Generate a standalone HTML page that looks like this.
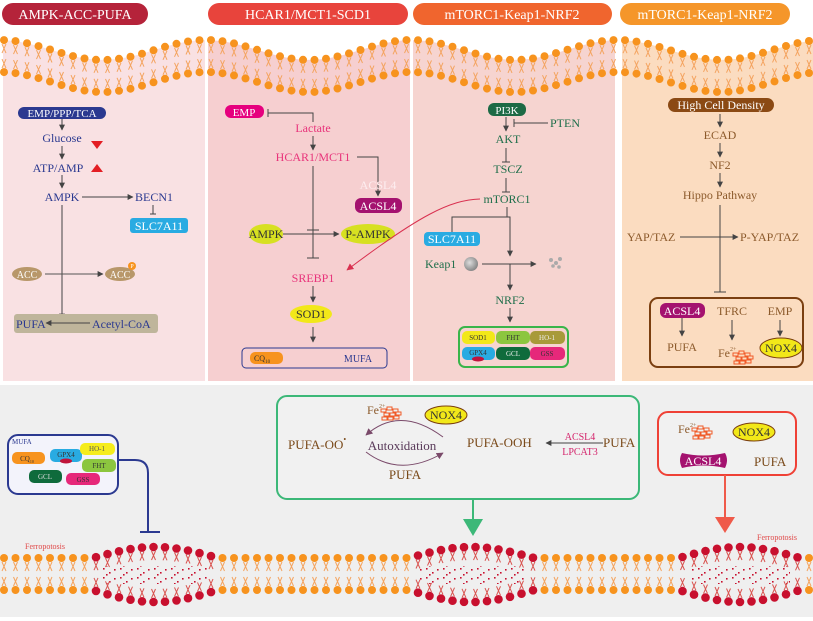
<!DOCTYPE html>
<html><head><meta charset="utf-8">
<style>
html,body{margin:0;padding:0;background:#fff}
svg{display:block;font-family:"Liberation Serif",serif}
</style></head><body>
<svg xmlns="http://www.w3.org/2000/svg" xmlns:xlink="http://www.w3.org/1999/xlink" width="813" height="621" viewBox="0 0 813 621">
<defs>
<marker id="a" viewBox="0 0 10 10" refX="9" refY="5" markerWidth="6" markerHeight="6" orient="auto"><path d="M0,0L10,5L0,10z" fill="#444"/></marker>
<marker id="ar" viewBox="0 0 10 10" refX="9" refY="5" markerWidth="7" markerHeight="7" orient="auto"><path d="M0,0L10,5L0,10z" fill="#d9304f"/></marker>
<marker id="ap" viewBox="0 0 10 10" refX="9" refY="5" markerWidth="7" markerHeight="7" orient="auto"><path d="M0,0L10,5L0,10z" fill="#7a4a6a"/></marker>
<radialGradient id="g" cx="40%" cy="40%" r="60%"><stop offset="0" stop-color="#ddd"/><stop offset="1" stop-color="#888"/></radialGradient>
<g id="ot"><path d="M-2,4L2,13M2,4L-2,13" stroke="#f4a460" fill="none"/><circle r="4" fill="#f7931e"/></g>
<g id="ob"><path d="M-2,-4L2,-13M2,-4L-2,-13" stroke="#f4a460" fill="none"/><circle r="4" fill="#f7931e"/></g>
<g id="rt"><path d="M-2,4L2,13M2,4L-2,13" stroke="#d9534f" fill="none"/><circle r="4.3" fill="#c8102e"/></g>
<g id="rb"><path d="M-2,-4L2,-13M2,-4L-2,-13" stroke="#d9534f" fill="none"/><circle r="4.3" fill="#c8102e"/></g>
<g id="u"><use xlink:href="#ot"/><use xlink:href="#ob" y="32"/></g>
<pattern id="dots" width="17" height="9" patternUnits="userSpaceOnUse"><rect x="1" y="1" width="1.6" height="1.6" fill="#c8102e"/><rect x="7" y="5" width="1.6" height="1.6" fill="#c8102e"/><rect x="12" y="2" width="1.6" height="1.6" fill="#c8102e"/><rect x="4" y="7" width="1.6" height="1.6" fill="#c8102e"/></pattern>
<g id="fe" fill="none" stroke="#f05a28" stroke-width="1"><rect x="0" y="-4" width="5" height="3"/><rect x="6" y="-6" width="5" height="3"/><rect x="12" y="-4" width="5" height="3"/><rect x="3" y="0" width="5" height="3"/><rect x="9" y="0" width="5" height="3"/><rect x="15" y="-1" width="5" height="3"/><rect x="1" y="4" width="5" height="3"/><rect x="7" y="4" width="5" height="3"/><rect x="13" y="3" width="5" height="3"/></g>
</defs>
<rect width="813" height="621" fill="#fff"/>
<rect x="0" y="385" width="813" height="232" fill="#efefef"/>
<rect x="3" y="40" width="202" height="341" fill="#f9e1e3"/>
<rect x="208" y="40" width="202" height="341" fill="#f6cfd0"/>
<rect x="413" y="40" width="202" height="341" fill="#f6d4d0"/>
<rect x="622" y="40" width="191" height="341" fill="#fbdcc0"/>
<path fill="#fff" d="M0,40 L4,40.1 L15.5,41.1 L27,43.2 L38.5,46.1 L50,49.5 L61.5,53 L73,56.1 L84.5,58.5 L96,59.8 L107.5,59.9 L119,58.8 L130.5,56.7 L142,53.7 L153.5,50.3 L165,46.8 L176.5,43.8 L188,41.5 L199.5,40.2 L211,40.1 L222.5,41.2 L234,43.4 L245.5,46.4 L257,49.8 L268.5,53.3 L280,56.3 L291.5,58.6 L303,59.8 L314.5,59.9 L326,58.7 L337.5,56.5 L349,53.4 L360.5,50 L372,46.6 L383.5,43.5 L395,41.3 L406.5,40.1 L418,40.2 L429.5,41.4 L441,43.7 L452.5,46.7 L464,50.2 L475.5,53.6 L487,56.6 L498.5,58.8 L510,59.9 L521.5,59.8 L533,58.5 L544.5,56.2 L556,53.1 L567.5,49.7 L579,46.3 L590.5,43.3 L602,41.2 L613.5,40.1 L625,40.2 L636.5,41.6 L648,43.9 L659.5,47 L671,50.5 L682.5,53.9 L694,56.8 L705.5,58.9 L717,59.9 L728.5,59.7 L740,58.4 L751.5,56 L763,52.8 L774.5,49.4 L786,46 L797.5,43.1 L809,41 L813,40.8 L813,0 L0,0Z"/>
<g>
<use xlink:href="#u" x="4" y="40.1"/><use xlink:href="#u" x="15.5" y="41.1"/><use xlink:href="#u" x="27" y="43.2"/><use xlink:href="#u" x="38.5" y="46.1"/><use xlink:href="#u" x="50" y="49.5"/><use xlink:href="#u" x="61.5" y="53"/><use xlink:href="#u" x="73" y="56.1"/><use xlink:href="#u" x="84.5" y="58.5"/><use xlink:href="#u" x="96" y="59.8"/><use xlink:href="#u" x="107.5" y="59.9"/><use xlink:href="#u" x="119" y="58.8"/><use xlink:href="#u" x="130.5" y="56.7"/><use xlink:href="#u" x="142" y="53.7"/><use xlink:href="#u" x="153.5" y="50.3"/><use xlink:href="#u" x="165" y="46.8"/><use xlink:href="#u" x="176.5" y="43.8"/><use xlink:href="#u" x="188" y="41.5"/><use xlink:href="#u" x="199.5" y="40.2"/><use xlink:href="#u" x="211" y="40.1"/><use xlink:href="#u" x="222.5" y="41.2"/><use xlink:href="#u" x="234" y="43.4"/><use xlink:href="#u" x="245.5" y="46.4"/><use xlink:href="#u" x="257" y="49.8"/><use xlink:href="#u" x="268.5" y="53.3"/><use xlink:href="#u" x="280" y="56.3"/><use xlink:href="#u" x="291.5" y="58.6"/><use xlink:href="#u" x="303" y="59.8"/><use xlink:href="#u" x="314.5" y="59.9"/><use xlink:href="#u" x="326" y="58.7"/><use xlink:href="#u" x="337.5" y="56.5"/><use xlink:href="#u" x="349" y="53.4"/><use xlink:href="#u" x="360.5" y="50"/><use xlink:href="#u" x="372" y="46.6"/><use xlink:href="#u" x="383.5" y="43.5"/><use xlink:href="#u" x="395" y="41.3"/><use xlink:href="#u" x="406.5" y="40.1"/><use xlink:href="#u" x="418" y="40.2"/><use xlink:href="#u" x="429.5" y="41.4"/><use xlink:href="#u" x="441" y="43.7"/><use xlink:href="#u" x="452.5" y="46.7"/><use xlink:href="#u" x="464" y="50.2"/><use xlink:href="#u" x="475.5" y="53.6"/><use xlink:href="#u" x="487" y="56.6"/><use xlink:href="#u" x="498.5" y="58.8"/><use xlink:href="#u" x="510" y="59.9"/><use xlink:href="#u" x="521.5" y="59.8"/><use xlink:href="#u" x="533" y="58.5"/><use xlink:href="#u" x="544.5" y="56.2"/><use xlink:href="#u" x="556" y="53.1"/><use xlink:href="#u" x="567.5" y="49.7"/><use xlink:href="#u" x="579" y="46.3"/><use xlink:href="#u" x="590.5" y="43.3"/><use xlink:href="#u" x="602" y="41.2"/><use xlink:href="#u" x="613.5" y="40.1"/><use xlink:href="#u" x="625" y="40.2"/><use xlink:href="#u" x="636.5" y="41.6"/><use xlink:href="#u" x="648" y="43.9"/><use xlink:href="#u" x="659.5" y="47"/><use xlink:href="#u" x="671" y="50.5"/><use xlink:href="#u" x="682.5" y="53.9"/><use xlink:href="#u" x="694" y="56.8"/><use xlink:href="#u" x="705.5" y="58.9"/><use xlink:href="#u" x="717" y="59.9"/><use xlink:href="#u" x="728.5" y="59.7"/><use xlink:href="#u" x="740" y="58.4"/><use xlink:href="#u" x="751.5" y="56"/><use xlink:href="#u" x="763" y="52.8"/><use xlink:href="#u" x="774.5" y="49.4"/><use xlink:href="#u" x="786" y="46"/><use xlink:href="#u" x="797.5" y="43.1"/><use xlink:href="#u" x="809" y="41"/>
</g>
<!-- bottom membrane -->
<g>
<use xlink:href="#u" x="4" y="558"/><use xlink:href="#u" x="15.5" y="558"/><use xlink:href="#u" x="27" y="558"/><use xlink:href="#u" x="38.5" y="558"/><use xlink:href="#u" x="50" y="558"/><use xlink:href="#u" x="61.5" y="558"/><use xlink:href="#u" x="73" y="558"/><use xlink:href="#u" x="84.5" y="558"/>
<use xlink:href="#u" x="222.5" y="558"/><use xlink:href="#u" x="234" y="558"/><use xlink:href="#u" x="245.5" y="558"/><use xlink:href="#u" x="257" y="558"/><use xlink:href="#u" x="268.5" y="558"/><use xlink:href="#u" x="280" y="558"/><use xlink:href="#u" x="291.5" y="558"/><use xlink:href="#u" x="303" y="558"/><use xlink:href="#u" x="314.5" y="558"/><use xlink:href="#u" x="326" y="558"/><use xlink:href="#u" x="337.5" y="558"/><use xlink:href="#u" x="349" y="558"/><use xlink:href="#u" x="360.5" y="558"/><use xlink:href="#u" x="372" y="558"/><use xlink:href="#u" x="383.5" y="558"/><use xlink:href="#u" x="395" y="558"/><use xlink:href="#u" x="406.5" y="558"/>
<use xlink:href="#u" x="544.5" y="558"/><use xlink:href="#u" x="556" y="558"/><use xlink:href="#u" x="567.5" y="558"/><use xlink:href="#u" x="579" y="558"/><use xlink:href="#u" x="590.5" y="558"/><use xlink:href="#u" x="602" y="558"/><use xlink:href="#u" x="613.5" y="558"/><use xlink:href="#u" x="625" y="558"/><use xlink:href="#u" x="636.5" y="558"/><use xlink:href="#u" x="648" y="558"/><use xlink:href="#u" x="659.5" y="558"/><use xlink:href="#u" x="671" y="558"/><use xlink:href="#u" x="809" y="558"/>
<rect x="103" y="566" width="105" height="18" fill="url(#dots)"/>
<rect x="419" y="566" width="105" height="18" fill="url(#dots)"/>
<rect x="689" y="566" width="101" height="18" fill="url(#dots)"/>
<use xlink:href="#rt" x="96" y="557.2"/><use xlink:href="#rt" x="107.5" y="554.1"/><use xlink:href="#rt" x="119" y="551.3"/><use xlink:href="#rt" x="130.5" y="549.1"/><use xlink:href="#rt" x="142" y="547.6"/><use xlink:href="#rt" x="153.5" y="547"/><use xlink:href="#rt" x="165" y="547.3"/><use xlink:href="#rt" x="176.5" y="548.5"/><use xlink:href="#rt" x="188" y="550.5"/><use xlink:href="#rt" x="199.5" y="553.1"/><use xlink:href="#rt" x="211" y="556.1"/>
<use xlink:href="#rb" x="96" y="590.9"/><use xlink:href="#rb" x="107.5" y="594.3"/><use xlink:href="#rb" x="119" y="597.3"/><use xlink:href="#rb" x="130.5" y="599.7"/><use xlink:href="#rb" x="142" y="601.3"/><use xlink:href="#rb" x="153.5" y="602"/><use xlink:href="#rb" x="165" y="601.7"/><use xlink:href="#rb" x="176.5" y="600.4"/><use xlink:href="#rb" x="188" y="598.2"/><use xlink:href="#rb" x="199.5" y="595.4"/><use xlink:href="#rb" x="211" y="592.1"/>
<use xlink:href="#rt" x="418" y="555.5"/><use xlink:href="#rt" x="429.5" y="552.6"/><use xlink:href="#rt" x="441" y="550.1"/><use xlink:href="#rt" x="452.5" y="548.2"/><use xlink:href="#rt" x="464" y="547.2"/><use xlink:href="#rt" x="475.5" y="547.1"/><use xlink:href="#rt" x="487" y="547.8"/><use xlink:href="#rt" x="498.5" y="549.4"/><use xlink:href="#rt" x="510" y="551.8"/><use xlink:href="#rt" x="521.5" y="554.6"/><use xlink:href="#rt" x="533" y="557.7"/>
<use xlink:href="#rb" x="418" y="592.7"/><use xlink:href="#rb" x="429.5" y="595.9"/><use xlink:href="#rb" x="441" y="598.6"/><use xlink:href="#rb" x="452.5" y="600.7"/><use xlink:href="#rb" x="464" y="601.8"/><use xlink:href="#rb" x="475.5" y="601.9"/><use xlink:href="#rb" x="487" y="601.1"/><use xlink:href="#rb" x="498.5" y="599.3"/><use xlink:href="#rb" x="510" y="596.8"/><use xlink:href="#rb" x="521.5" y="593.7"/><use xlink:href="#rb" x="533" y="590.3"/>
<use xlink:href="#rt" x="682.5" y="557"/><use xlink:href="#rt" x="694" y="553.8"/><use xlink:href="#rt" x="705.5" y="551"/><use xlink:href="#rt" x="717" y="548.8"/><use xlink:href="#rt" x="728.5" y="547.5"/><use xlink:href="#rt" x="740" y="547"/><use xlink:href="#rt" x="751.5" y="547.5"/><use xlink:href="#rt" x="763" y="549"/><use xlink:href="#rt" x="774.5" y="551.2"/><use xlink:href="#rt" x="786" y="554.1"/><use xlink:href="#rt" x="797.5" y="557.3"/>
<use xlink:href="#rb" x="682.5" y="591.1"/><use xlink:href="#rb" x="694" y="594.6"/><use xlink:href="#rb" x="705.5" y="597.6"/><use xlink:href="#rb" x="717" y="600"/><use xlink:href="#rb" x="728.5" y="601.5"/><use xlink:href="#rb" x="740" y="602"/><use xlink:href="#rb" x="751.5" y="601.4"/><use xlink:href="#rb" x="763" y="599.8"/><use xlink:href="#rb" x="774.5" y="597.4"/><use xlink:href="#rb" x="786" y="594.3"/><use xlink:href="#rb" x="797.5" y="590.8"/>
</g>

<!-- header pills -->
<rect x="2" y="3" width="146" height="22" rx="11" fill="#b5233a"/>
<text x="75" y="19" text-anchor="middle" fill="#fff" font-size="14">AMPK-ACC-PUFA</text>
<rect x="208" y="3" width="200" height="22" rx="11" fill="#e8443c"/>
<text x="308" y="19" text-anchor="middle" fill="#fff" font-size="14">HCAR1/MCT1-SCD1</text>
<rect x="413" y="3" width="199" height="22" rx="11" fill="#f0652e"/>
<text x="512" y="19" text-anchor="middle" fill="#fff" font-size="14">mTORC1-Keap1-NRF2</text>
<rect x="620" y="3" width="170" height="22" rx="11" fill="#f5962a"/>
<text x="705" y="19" text-anchor="middle" fill="#fff" font-size="14">mTORC1-Keap1-NRF2</text>

<g font-size="12" stroke-width="1">
<!-- Panel 1 -->
<rect x="18" y="107" width="88" height="12" rx="6" fill="#2b3990"/>
<text x="62" y="117" text-anchor="middle" fill="#fff" font-size="11">EMP/PPP/TCA</text>
<line x1="62" y1="119" x2="62" y2="130" stroke="#444" marker-end="url(#a)"/>
<text x="62" y="142" text-anchor="middle" fill="#2b3990">Glucose</text>
<polygon points="91,141 103,141 97,149" fill="#e31e24"/>
<line x1="62" y1="146" x2="62" y2="159" stroke="#444" marker-end="url(#a)"/>
<text x="58" y="172" text-anchor="middle" fill="#2b3990">ATP/AMP</text>
<polygon points="91,172 103,172 97,164" fill="#e31e24"/>
<line x1="62" y1="175" x2="62" y2="188" stroke="#444" marker-end="url(#a)"/>
<text x="62" y="201" text-anchor="middle" fill="#2b3990">AMPK</text>
<line x1="82" y1="197" x2="133" y2="197" stroke="#444" marker-end="url(#a)"/>
<text x="135" y="201" fill="#2b3990">BECN1</text>
<line x1="153" y1="205" x2="153" y2="214" stroke="#444"/><line x1="150" y1="214" x2="156" y2="214" stroke="#444"/>
<rect x="130" y="218" width="58" height="15" rx="3" fill="#29abe2"/>
<text x="159" y="230" text-anchor="middle" fill="#fff">SLC7A11</text>
<line x1="62" y1="205" x2="62" y2="319" stroke="#444" marker-end="url(#a)"/>
<ellipse cx="27" cy="274" rx="15" ry="7" fill="#b8976a"/>
<text x="27" y="278" text-anchor="middle" fill="#fff" font-size="10">ACC</text>
<line x1="45" y1="274" x2="103" y2="274" stroke="#555" marker-end="url(#a)"/>
<ellipse cx="120" cy="274" rx="15" ry="7" fill="#b8976a"/>
<text x="120" y="278" text-anchor="middle" fill="#fff" font-size="10">ACC</text>
<circle cx="132" cy="266" r="4" fill="#f7931e"/><text x="132" y="268" text-anchor="middle" fill="#fff" font-size="6">P</text>
<rect x="14" y="314" width="144" height="19" rx="3" fill="#bfb59b"/>
<text x="16" y="328" fill="#2b3990">PUFA</text>
<line x1="90" y1="323" x2="46" y2="323" stroke="#444" marker-end="url(#a)"/>
<text x="92" y="328" fill="#2b3990">Acetyl-CoA</text>

<!-- Panel 2 -->
<rect x="225" y="105" width="39" height="13" rx="6" fill="#e6007e"/>
<text x="244" y="116" text-anchor="middle" fill="#fff" font-size="11">EMP</text>
<polyline points="313,122 313,113 268,113" fill="none" stroke="#444"/><line x1="268" y1="109" x2="268" y2="117" stroke="#444"/>
<text x="313" y="132" text-anchor="middle" fill="#e8337a">Lactate</text>
<line x1="313" y1="136" x2="313" y2="150" stroke="#444" marker-end="url(#a)"/>
<text x="313" y="161" text-anchor="middle" fill="#e8337a">HCAR1/MCT1</text>
<polyline points="357,157 378,157 378,196" fill="none" stroke="#444" marker-end="url(#a)"/>
<text x="378" y="189" text-anchor="middle" fill="#fdeef0">ACSL4</text>
<rect x="355" y="198" width="47" height="15" rx="6" fill="#a4126f"/>
<text x="378" y="210" text-anchor="middle" fill="#fff">ACSL4</text>
<line x1="313" y1="166" x2="313" y2="258" stroke="#444"/>
<line x1="307" y1="230" x2="319" y2="230" stroke="#444"/><line x1="307" y1="258" x2="319" y2="258" stroke="#444"/>
<ellipse cx="266" cy="234" rx="17" ry="10" fill="#d7e021"/>
<text x="266" y="238" text-anchor="middle" fill="#333">AMPK</text>
<line x1="283" y1="234" x2="339" y2="234" stroke="#444" marker-end="url(#a)"/>
<ellipse cx="368" cy="234" rx="27" ry="10" fill="#d7e021"/>
<text x="368" y="238" text-anchor="middle" fill="#333">P-AMPK</text>
<text x="313" y="282" text-anchor="middle" fill="#e8337a">SREBP1</text>
<line x1="313" y1="286" x2="313" y2="302" stroke="#444" marker-end="url(#a)"/>
<ellipse cx="311" cy="314" rx="21" ry="9" fill="#f2e819"/>
<text x="311" y="318" text-anchor="middle" fill="#333">SOD1</text>
<line x1="313" y1="327" x2="313" y2="342" stroke="#444" marker-end="url(#a)"/>
<rect x="242" y="348" width="145" height="20" rx="4" fill="none" stroke="#2b3990"/>
<rect x="250" y="352" width="33" height="12" rx="5" fill="#f7931e"/>
<text x="262" y="361" text-anchor="middle" fill="#333" font-size="8">CQ<tspan font-size="5" dy="2">10</tspan></text>
<text x="358" y="362" text-anchor="middle" fill="#2b3990" font-size="10">MUFA</text>
<path d="M480,199 C450,200 420,215 347,270" fill="none" stroke="#d9304f" marker-end="url(#ar)"/>

<!-- Panel 3 -->
<rect x="488" y="103" width="38" height="13" rx="6" fill="#1d6a45"/>
<text x="507" y="114" text-anchor="middle" fill="#fff" font-size="11">PI3K</text>
<line x1="506" y1="117" x2="506" y2="131" stroke="#444" marker-end="url(#a)"/>
<text x="550" y="127" fill="#1e6e4a">PTEN</text>
<line x1="548" y1="123" x2="514" y2="123" stroke="#444"/><line x1="514" y1="119" x2="514" y2="127" stroke="#444"/>
<text x="508" y="143" text-anchor="middle" fill="#1e6e4a">AKT</text>
<line x1="506" y1="148" x2="506" y2="162" stroke="#444"/><line x1="502" y1="162" x2="510" y2="162" stroke="#444"/>
<text x="508" y="173" text-anchor="middle" fill="#1e6e4a">TSCZ</text>
<line x1="506" y1="178" x2="506" y2="192" stroke="#444"/><line x1="502" y1="192" x2="510" y2="192" stroke="#444"/>
<text x="507" y="203" text-anchor="middle" fill="#1e6e4a">mTORC1</text>
<polyline points="507,207 507,217 452,217 452,232" fill="none" stroke="#444"/>
<polyline points="507,217 510,217 510,256" fill="none" stroke="#444" marker-end="url(#a)"/>
<rect x="424" y="232" width="56" height="14" rx="4" fill="#29abe2"/>
<text x="452" y="243" text-anchor="middle" fill="#fff">SLC7A11</text>
<text x="425" y="268" fill="#1e6e4a">Keap1</text>
<circle cx="471" cy="264" r="7" fill="url(#g)"/>
<line x1="482" y1="264" x2="536" y2="264" stroke="#444" marker-end="url(#a)"/>
<g fill="#aaa"><circle cx="551" cy="260" r="2"/><circle cx="556" cy="263" r="2"/><circle cx="560" cy="259" r="2"/><circle cx="553" cy="266" r="1.8"/><circle cx="559" cy="267" r="1.8"/></g>
<line x1="510" y1="264" x2="510" y2="290" stroke="#444" marker-end="url(#a)"/>
<text x="510" y="304" text-anchor="middle" fill="#1e6e4a">NRF2</text>
<line x1="510" y1="308" x2="510" y2="322" stroke="#444" marker-end="url(#a)"/>
<rect x="459" y="327" width="109" height="40" rx="6" fill="#f6d4d0" stroke="#39b54a" stroke-width="2"/>
<g font-size="7" text-anchor="middle">
<rect x="462" y="331" width="33" height="13" rx="5" fill="#f2e819"/><text x="478" y="340" fill="#333">SOD1</text>
<rect x="496" y="331" width="34" height="13" rx="5" fill="#8cc63f"/><text x="513" y="340" fill="#333">FHT</text>
<rect x="530" y="331" width="35" height="13" rx="5" fill="#a89a3a"/><text x="547" y="340" fill="#eee">HO-1</text>
<rect x="462" y="347" width="33" height="13" rx="5" fill="#29abe2"/><text x="478" y="355" fill="#333">GPX4</text>
<ellipse cx="478" cy="359" rx="6" ry="2.5" fill="#c0143c"/>
<rect x="496" y="347" width="34" height="13" rx="5" fill="#0f6b3c"/><text x="513" y="356" fill="#eee">GCL</text>
<rect x="530" y="347" width="35" height="13" rx="5" fill="#e6287a"/><text x="547" y="356" fill="#333">GSS</text>
</g>

<!-- Panel 4 -->
<rect x="668" y="98" width="106" height="14" rx="7" fill="#8b4a14"/>
<text x="721" y="109" text-anchor="middle" fill="#fff">High Cell Density</text>
<line x1="720" y1="114" x2="720" y2="127" stroke="#444" marker-end="url(#a)"/>
<text x="720" y="139" text-anchor="middle" fill="#8c5a2b">ECAD</text>
<line x1="720" y1="143" x2="720" y2="157" stroke="#444" marker-end="url(#a)"/>
<text x="720" y="169" text-anchor="middle" fill="#8c5a2b">NF2</text>
<line x1="720" y1="173" x2="720" y2="187" stroke="#444" marker-end="url(#a)"/>
<text x="720" y="199" text-anchor="middle" fill="#8c5a2b">Hippo Pathway</text>
<line x1="720" y1="205" x2="720" y2="292" stroke="#444"/><line x1="714" y1="292" x2="726" y2="292" stroke="#444"/>
<text x="627" y="241" fill="#8c5a2b">YAP/TAZ</text>
<line x1="680" y1="237" x2="738" y2="237" stroke="#444" marker-end="url(#a)"/>
<text x="740" y="241" fill="#8c5a2b">P-YAP/TAZ</text>
<rect x="650" y="298" width="153" height="69" rx="8" fill="none" stroke="#7b3f10" stroke-width="2"/>
<rect x="660" y="303" width="45" height="15" rx="6" fill="#a4126f"/>
<text x="682" y="315" text-anchor="middle" fill="#fff">ACSL4</text>
<line x1="682" y1="318" x2="682" y2="336" stroke="#444" marker-end="url(#a)"/>
<text x="682" y="351" text-anchor="middle" fill="#8c5a2b">PUFA</text>
<text x="732" y="315" text-anchor="middle" fill="#8c5a2b">TFRC</text>
<line x1="732" y1="320" x2="732" y2="340" stroke="#444" marker-end="url(#a)"/>
<text x="718" y="357" fill="#8c5a2b">Fe<tspan font-size="6" dy="-6">2+</tspan></text>
<use xlink:href="#fe" x="733" y="357"/>
<text x="780" y="315" text-anchor="middle" fill="#8c5a2b">EMP</text>
<line x1="780" y1="320" x2="780" y2="336" stroke="#444" marker-end="url(#a)"/>
<ellipse cx="781" cy="348" rx="21" ry="10" fill="#f2e819" stroke="#7b3f10"/>
<text x="781" y="352" text-anchor="middle" fill="#333">NOX4</text>

<!-- Bottom left box -->
<rect x="8" y="435" width="110" height="59" rx="10" fill="#f3f3fb" stroke="#2b3990" stroke-width="2"/>
<text x="12" y="444" fill="#2b3990" font-size="7">MUFA</text>
<g font-size="7" text-anchor="middle">
<rect x="12" y="452" width="33" height="12" rx="5" fill="#f7931e"/><text x="27" y="461" fill="#333">CQ<tspan font-size="4" dy="2">10</tspan></text>
<rect x="50" y="449" width="32" height="13" rx="5" fill="#29abe2"/><text x="66" y="457" fill="#333">GPX4</text>
<ellipse cx="66" cy="461" rx="6" ry="2.5" fill="#c0143c"/>
<rect x="80" y="443" width="35" height="12" rx="5" fill="#f5ec1c"/><text x="97" y="451" fill="#555">HO-1</text>
<rect x="82" y="459" width="34" height="13" rx="5" fill="#8cc63f"/><text x="99" y="468" fill="#333">FHT</text>
<rect x="29" y="470" width="33" height="13" rx="5" fill="#0f6b3c"/><text x="45" y="479" fill="#ddd">GCL</text>
<rect x="66" y="473" width="34" height="12" rx="5" fill="#e6287a"/><text x="83" y="482" fill="#333">GSS</text>
</g>
<path d="M118,460 L135,460 Q148,460 148,473 L148,532" fill="none" stroke="#2b3990" stroke-width="2"/>
<line x1="140" y1="532" x2="160" y2="532" stroke="#2b3990" stroke-width="2"/>
<text x="25" y="549" fill="#e04a4a" font-size="8">Ferropotosis</text>
<text x="757" y="540" fill="#e04a4a" font-size="8">Ferropotosis</text>

<!-- Green box -->
<rect x="277" y="396" width="362" height="103" rx="10" fill="#f1f1f1" stroke="#3cb878" stroke-width="2"/>
<line x1="473" y1="499" x2="473" y2="520" stroke="#3cb878" stroke-width="2"/>
<polygon points="463,519 483,519 473,536" fill="#3cb878"/>
<text x="367" y="414" fill="#8c5a2b">Fe<tspan font-size="6" dy="-6">2+</tspan></text>
<use xlink:href="#fe" x="381" y="413"/>
<ellipse cx="446" cy="415" rx="21" ry="9" fill="#f2e819" stroke="#7b3f10"/>
<text x="446" y="419" text-anchor="middle" fill="#333">NOX4</text>
<text x="288" y="449" fill="#7a4a1a" font-size="13">PUFA-OO<tspan font-size="8" dy="-7">•</tspan></text>
<text x="402" y="450" text-anchor="middle" fill="#5a3a5a" font-size="13">Autoxidation</text>
<path d="M443,437 Q400,405 366,435" fill="none" stroke="#7a4a6a" marker-end="url(#ap)"/>
<path d="M366,452 Q400,478 443,453" fill="none" stroke="#7a4a6a" marker-end="url(#ap)"/>
<text x="405" y="479" text-anchor="middle" fill="#7a4a1a" font-size="13">PUFA</text>
<text x="467" y="447" fill="#7a4a1a" font-size="13">PUFA-OOH</text>
<text x="580" y="440" text-anchor="middle" fill="#d4246c" font-size="10">ACSL4</text>
<text x="580" y="455" text-anchor="middle" fill="#d4246c" font-size="10">LPCAT3</text>
<line x1="603" y1="443" x2="546" y2="443" stroke="#444" marker-end="url(#a)"/>
<text x="603" y="447" fill="#7a4a1a" font-size="13">PUFA</text>

<!-- Red box -->
<rect x="658" y="412" width="138" height="63" rx="10" fill="#f1f1f1" stroke="#ef4136" stroke-width="2"/>
<line x1="725" y1="475" x2="725" y2="518" stroke="#ef5a4a" stroke-width="2"/>
<polygon points="715,517 735,517 725,533" fill="#ef5a4a"/>
<text x="678" y="433" fill="#8c5a2b">Fe<tspan font-size="6" dy="-6">2+</tspan></text>
<use xlink:href="#fe" x="692" y="432"/>
<ellipse cx="754" cy="432" rx="21" ry="9" fill="#f2e819" stroke="#7b3f10"/>
<text x="754" y="436" text-anchor="middle" fill="#333">NOX4</text>
<path d="M682,453 Q703,458 725,453 Q729,460 725,468 Q703,463 682,468 Q678,460 682,453z" fill="#a4126f"/>
<text x="703" y="465" text-anchor="middle" fill="#fff">ACSL4</text>
<text x="754" y="466" fill="#7a4a1a" font-size="13">PUFA</text>
</g>
</svg>
</body></html>
